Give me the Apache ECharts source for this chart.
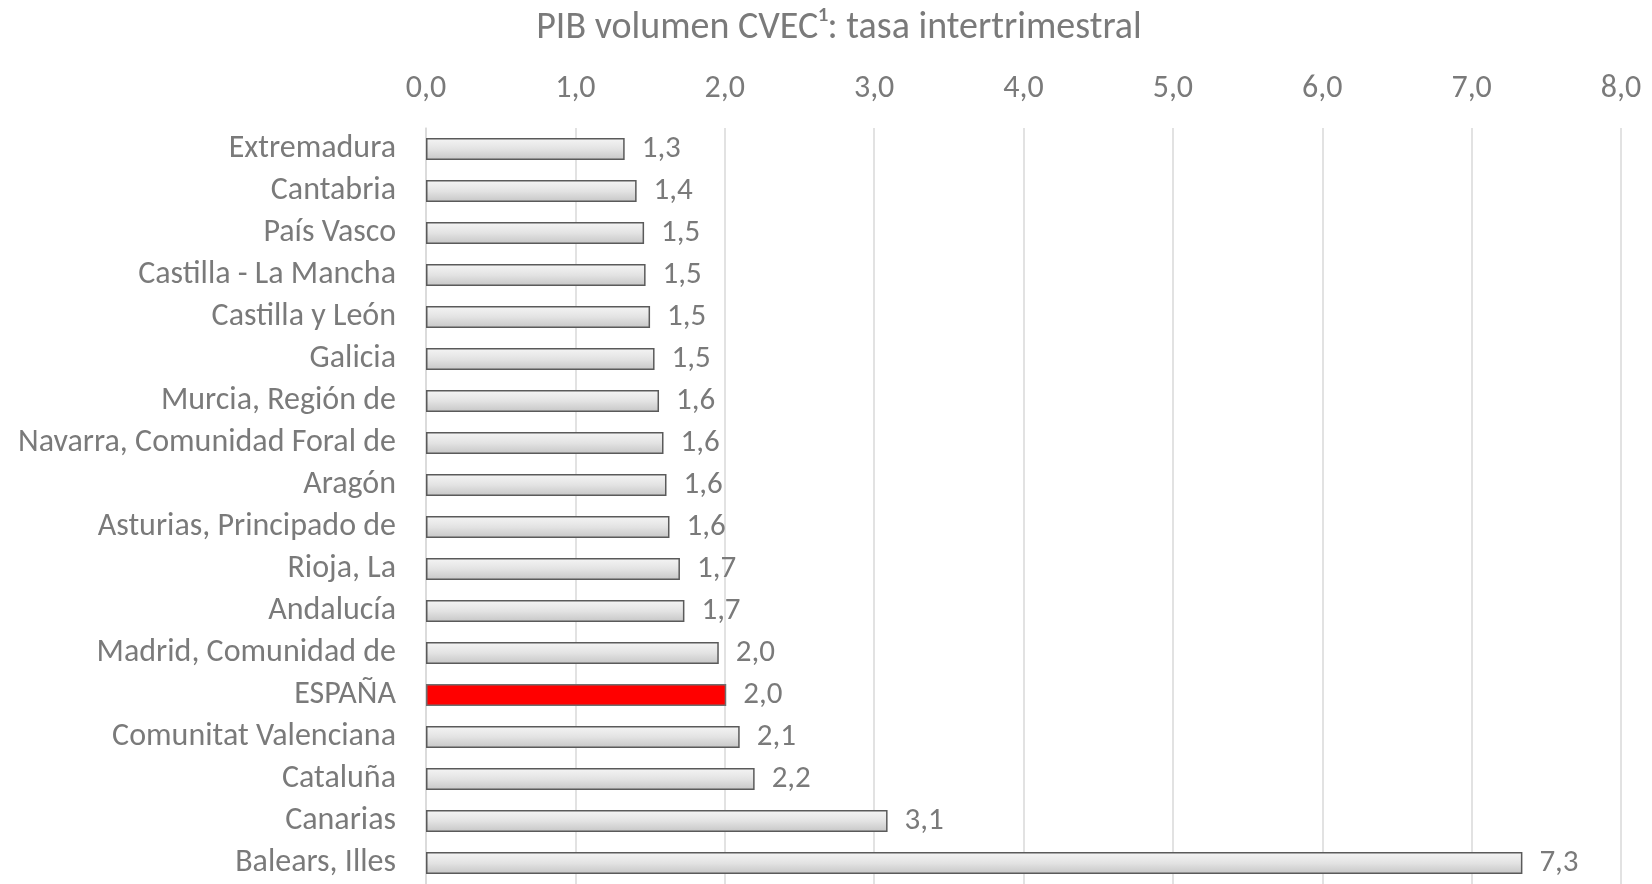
<!DOCTYPE html>
<html>
<head>
<meta charset="utf-8">
<script src="https://cdn.jsdelivr.net/npm/echarts@6/dist/echarts.min.js"></script>
<style>
html,body{margin:0;padding:0;background:#fff;}
#chart{width:1652px;height:884px;}
</style>
</head>
<body>
<div id="chart"></div>
<script>
const titleText = 'PIB volumen CVEC¹: tasa intertrimestral';
const categories = [
  'Extremadura','Cantabria','País Vasco','Castilla - La Mancha','Castilla y León','Galicia',
  'Murcia, Región de','Navarra, Comunidad Foral de','Aragón','Asturias, Principado de',
  'Rioja, La','Andalucía','Madrid, Comunidad de','ESPAÑA','Comunitat Valenciana',
  'Cataluña','Canarias','Balears, Illes'
];
const values = [1.33,1.41,1.46,1.47,1.50,1.53,1.56,1.59,1.61,1.63,1.70,1.73,1.96,2.01,2.10,2.20,3.09,7.34];
const highlightCategory = 'ESPAÑA';
const axisMin = 0, axisMax = 8, axisInterval = 1;

const FONT = "Carlito, Calibri, 'Open Sans', sans-serif";
const TXT = '#7a7a7a';
const fmt = v => v.toFixed(1).replace('.', ',');

const grayFill = new echarts.graphic.LinearGradient(0,0,0,1,[
  {offset:0,color:'#f5f5f5'},{offset:0.5,color:'#e3e3e3'},{offset:1,color:'#c6c6c6'}
]);

const chart = echarts.init(document.getElementById('chart'));
chart.setOption({
  animation:false,
  backgroundColor:'#ffffff',
  title:{
    text:titleText, left:834, top:4, textAlign:'center',
    textStyle:{fontFamily:FONT,fontSize:38,fontWeight:'normal',color:TXT}
  },
  grid:{left:426,right:31,top:128,bottom:0,containLabel:false},
  xAxis:{
    type:'value', position:'top', min:axisMin, max:axisMax, interval:axisInterval,
    axisLine:{show:false}, axisTick:{show:false},
    axisLabel:{formatter:fmt,fontFamily:FONT,fontSize:32,color:TXT,margin:23},
    splitLine:{show:true,lineStyle:{color:'#d9d9d9',width:1.5}}
  },
  yAxis:{
    type:'category', data:categories, inverse:true,
    axisLine:{show:true,lineStyle:{color:'#d9d9d9',width:1.5}},
    axisTick:{show:false},
    axisLabel:{fontFamily:FONT,fontSize:32,color:TXT,margin:30,padding:[6,0,0,0]}
  },
  series:[{
    type:'bar',
    barWidth:'52%',
    data: values.map((v,i)=>({
      value:v,
      itemStyle: categories[i]===highlightCategory
        ? {color:'#ff0000',borderColor:'#6f6f6f',borderWidth:1.5}
        : {color:grayFill,borderColor:'#5a5a5a',borderWidth:1.5}
    })),
    label:{show:true,position:'right',distance:17,formatter:p=>fmt(p.value),
      fontFamily:FONT,fontSize:31,color:TXT,padding:[6,0,0,0]}
  }]
});
</script>
</body>
</html>
